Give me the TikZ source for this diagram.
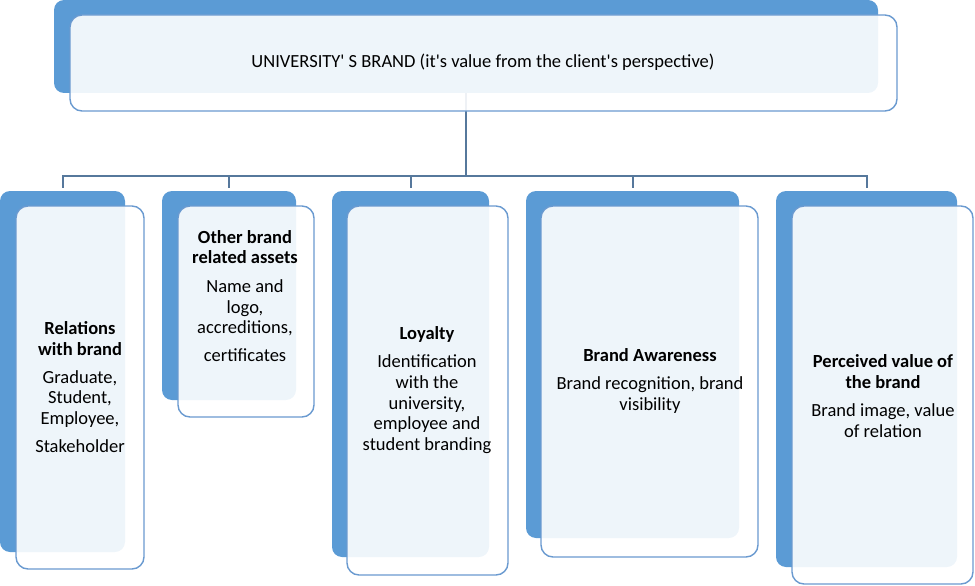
\documentclass[tikz,border=0pt]{standalone}
\usepackage{fontspec}
\setmainfont{Carlito}[Ligatures=TeXOff]
\usepackage{tikz}
\usetikzlibrary{calc}
\definecolor{brandblue}{HTML}{5B9BD5}
\definecolor{brandedge}{HTML}{6A9AD0}
\definecolor{brandline}{HTML}{56789C}
\tikzset{
	backbox/.style={fill=brandblue, rounded corners=10pt, inner sep=0pt, draw=none},
	frontbox/.style={fill=white, fill opacity=0.9, draw=brandedge, line width=1.4pt, rounded corners=12pt, inner sep=0pt},
	boxtext/.style={align=center, inner sep=0pt, font=\fontsize{18.5}{20.7}\selectfont},
	branch/.style={draw=brandline, line width=2pt}
}

\begin{document}
\begin{tikzpicture}[x=1pt, y=-1pt]
		%%%%% START %%%%%
		\useasboundingbox (0, 0) rectangle (975, 586);
		
		% back boxes
		\node[backbox, minimum width=824pt, minimum height=93pt] (brand) at (466, 46.5) {};
		\node[backbox, minimum width=125pt, minimum height=361pt] (rel) at (62.5, 371.5) {};
		\node[backbox, minimum width=134pt, minimum height=209pt] (assets) at (229, 295.5) {};
		\node[backbox, minimum width=157pt, minimum height=366pt] (loyal) at (410.5, 374) {};
		\node[backbox, minimum width=213pt, minimum height=347pt] (aware) at (632.5, 364.5) {};
		\node[backbox, minimum width=181pt, minimum height=376pt] (value) at (866.5, 379) {};
		
		% tree
		\coordinate (bus) at (466, 175.5);
		\draw[branch] (brand.south) -- (bus);
		\draw[branch] ($(rel.north)+(0,-3)$) |- (bus);
		\draw[branch] ($(assets.north)+(0,-3)$) |- (bus);
		\draw[branch] ($(loyal.north)+(0,-3)$) |- (bus);
		\draw[branch] ($(aware.north)+(0,-3)$) |- (bus);
		\draw[branch] ($(value.north)+(0,-3)$) |- (bus);
		
		% front boxes
		\node[frontbox, minimum width=827pt, minimum height=96pt] (brandF) at (483.5, 63) {};
		\node[frontbox, minimum width=128pt, minimum height=363pt] (relF) at (80, 387.5) {};
		\node[frontbox, minimum width=136pt, minimum height=211pt] (assetsF) at (246, 311.5) {};
		\node[frontbox, minimum width=161pt, minimum height=369pt] (loyalF) at (427.5, 390.5) {};
		\node[frontbox, minimum width=217pt, minimum height=351pt] (awareF) at (649.5, 381.5) {};
		\node[frontbox, minimum width=181pt, minimum height=378pt] (valueF) at (882.5, 395) {};
		
		% texts
		\node[boxtext] (brandT) at (483, 62) {UNIVERSITY' S BRAND (it's value from the client's perspective)};
		\node[boxtext] (relT) at (80, 387) {\textbf{Relations}\\\textbf{with brand}\\[7pt]Graduate,\\Student,\\Employee,\\[7pt]Stakeholder};
		\node[boxtext] (assetsT) at (245, 296) {\textbf{Other brand}\\\textbf{related assets}\\[8pt]Name and\\logo,\\accreditions,\\[7pt]certificates};
		\node[boxtext] (loyalT) at (427, 390) {\textbf{Loyalty}\\[8pt]Identification\\with the\\university,\\employee and\\student branding};
		\node[boxtext] (awareT) at (650, 381) {\textbf{Brand Awareness}\\[7pt]Brand recognition, brand\\visibility};
		\node[boxtext] (valueT) at (883, 396) {\textbf{Perceived value of}\\\textbf{the brand}\\[8pt]Brand image, value\\of relation};
		%%%%% END %%%%%
\end{tikzpicture}
\end{document}
